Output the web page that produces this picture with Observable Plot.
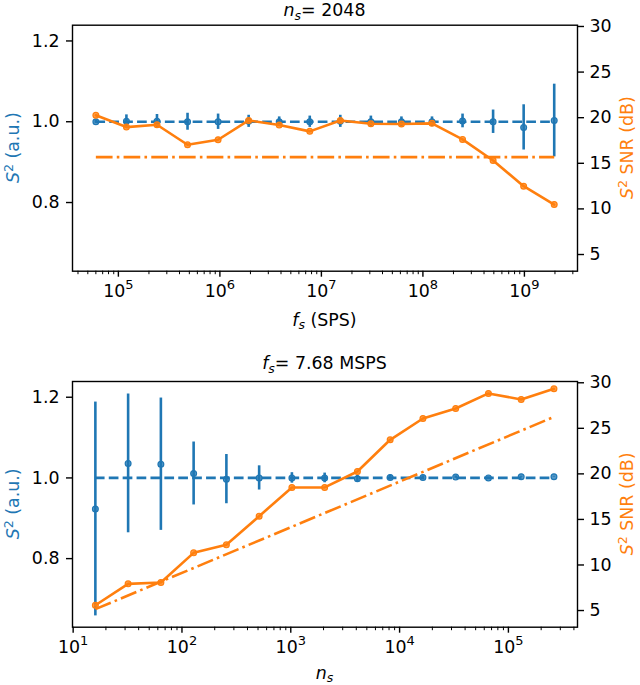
<!DOCTYPE html>
<html>
<head>
<meta charset="utf-8">
<script src="https://cdn.jsdelivr.net/npm/d3@7"></script>
<script src="https://cdn.jsdelivr.net/npm/@observablehq/plot@0.6"></script>
<style>
  body { margin: 0; background: #fff; font-family: "DejaVu Sans"; }
  .panel { position: relative; width: 640px; }
  .panel svg { position: absolute; left: 0; top: 0; overflow: visible; }
</style>
</head>
<body>
<div id="chart"></div>
<script>
// top panel: n_s = 2048, sweep of sampling rate
let fsTop = [6e4, 1.2e5, 2.4e5, 4.8e5, 9.6e5, 1.92e6, 3.84e6, 7.68e6, 1.536e7, 3.072e7, 6.144e7, 1.2288e8, 2.4576e8, 4.9152e8, 9.8304e8, 1.96608e9];
let s2Top = [1.000, 1.001, 1.001, 1.000, 1.000, 1.001, 1.000, 1.000, 1.001, 1.000, 1.000, 1.000, 1.002, 1.000, 0.986, 1.003];
let s2ErrTop = [0.004, 0.016, 0.017, 0.021, 0.019, 0.015, 0.012, 0.014, 0.015, 0.014, 0.012, 0.012, 0.017, 0.029, 0.056, 0.090];
let snrTop = [20.26, 18.97, 19.23, 17.03, 17.58, 19.7, 19.19, 18.5, 19.7, 19.34, 19.3, 19.38, 17.62, 15.31, 12.49, 10.48];
let snrRefTop = [15.68, 15.68];

// bottom panel: f_s = 7.68 MSPS, sweep of number of samples
let nsBottom = [16, 32, 64, 128, 256, 512, 1024, 2048, 4096, 8192, 16384, 32768, 65536, 131072, 262144];
let s2Bottom = [0.923, 1.036, 1.034, 1.011, 0.997, 1.000, 1.000, 1.000, 0.998, 1.001, 1.001, 1.002, 1.000, 1.003, 1.003];
let s2ErrBottom = [0.265, 0.172, 0.164, 0.078, 0.061, 0.030, 0.013, 0.012, 0.008, 0.006, 0.004, 0.003, 0.002, 0.0015, 0.001];
let snrBottom = [5.58, 7.93, 8.07, 11.33, 12.21, 15.36, 18.51, 18.51, 20.26, 23.74, 26.08, 27.18, 28.83, 28.17, 29.34];
let snrRefBottom = [5.15, 26.25];

let s2Ref = 1.0;

// ticks
let decadesTop = [1e5, 1e6, 1e7, 1e8, 1e9];
let decadesBottom = [1e1, 1e2, 1e3, 1e4, 1e5];
let s2Ticks = [0.8, 1.0, 1.2];
let snrTicks = [5, 10, 15, 20, 25, 30];

const blue = "#1f77b4";
const orange = "#ff7f0e";
const fs = 17.4;
const s2Domain = [0.630, 1.239];
const snrDomain = [3.17, 30.14];

// "10^k", turned into a real superscript after rendering
const fmtPow = v => "10^" + Math.round(Math.log10(v));

function minorTicks(domain) {
  return d3.scaleLog().domain(domain).ticks()
    .filter(v => Math.abs(Math.log10(v) - Math.round(Math.log10(v))) > 1e-9);
}

function addText(svg, x, y, html, opts = {}) {
  d3.select(svg).append("text")
    .attr("transform", `translate(${x},${y}) rotate(${opts.rotate || 0})`)
    .attr("text-anchor", "middle")
    .attr("fill", opts.fill || "black")
    .attr("font-family", "DejaVu Sans")
    .attr("font-size", fs)
    .html(html);
}

const it = s => `<tspan font-style="italic">${s}</tspan>`;
const sub = s => `<tspan font-style="italic" font-size="12.5" dy="3.2">${s}</tspan>`;
const sq = `<tspan font-size="12.5" dy="-6">2</tspan><tspan dy="6">`;

function panel({xs, xDomain, decades, s2, s2Err, snr, snrRef, height, marginTop, marginBottom}) {
  let rows = xs.map((x, i) => ({x, s2: s2[i], err: s2Err[i], snr: snr[i]}));
  let refRows = [{x: xs[0], y: snrRef[0]}, {x: xs[xs.length - 1], y: snrRef[1]}];
  let base = {
    width: 640, height, marginTop, marginBottom, marginLeft: 72, marginRight: 63,
    style: {fontFamily: "DejaVu Sans", fontSize: fs + "px", color: "black", background: "none", overflow: "visible"}
  };

  let left = Plot.plot({
    ...base,
    x: {type: "log", domain: xDomain, label: null},
    y: {domain: s2Domain, label: null},
    marks: [
      Plot.ruleY([s2Ref], {x1: xs[0], x2: xs[xs.length - 1], stroke: blue, strokeWidth: 2.6, strokeDasharray: "9.7,4.2"}),
      Plot.ruleX(rows, {x: "x", y1: d => d.s2 - d.err, y2: d => d.s2 + d.err, stroke: blue, strokeWidth: 2.6}),
      Plot.dot(rows, {x: "x", y: "s2", r: 2.9, fill: blue, fillOpacity: 0.75, stroke: blue, strokeWidth: 1.2}),
      Plot.frame({stroke: "black", strokeWidth: 1.4}),
      Plot.axisX(minorTicks(xDomain), {tickSize: 3.5, strokeWidth: 1, tickFormat: () => "", label: null}),
      Plot.axisX(decades, {tickSize: 6, strokeWidth: 1.4, tickPadding: 7, tickFormat: fmtPow, label: null}),
      Plot.axisY(s2Ticks, {tickSize: 6, strokeWidth: 1.4, tickPadding: 7, tickFormat: d3.format(".1f"), label: null})
    ]
  });

  // mathtext-like superscripts on the decade labels
  d3.select(left).selectAll("text").each(function () {
    let t = this.textContent;
    if (t.startsWith("10^")) {
      d3.select(this).html(`10<tspan font-size="13" dy="-8">${t.slice(3)}</tspan>`);
    }
  });

  let right = Plot.plot({
    ...base,
    x: {type: "log", domain: xDomain, axis: null},
    y: {domain: snrDomain, label: null},
    marks: [
      Plot.line(refRows, {x: "x", y: "y", stroke: orange, strokeWidth: 2.6, strokeDasharray: "16.7,4.2,2.6,4.2", strokeLinecap: "butt"}),
      Plot.line(rows, {x: "x", y: "snr", stroke: orange, strokeWidth: 2.6}),
      Plot.dot(rows, {x: "x", y: "snr", r: 2.9, fill: orange, fillOpacity: 0.75, stroke: orange, strokeWidth: 1.2}),
      Plot.axisY(snrTicks, {anchor: "right", tickSize: 6, strokeWidth: 1.4, tickPadding: 6, label: null})
    ]
  });

  let div = d3.select("#chart").append("div").attr("class", "panel").style("height", height + "px");
  div.append(() => left);
  div.append(() => right);

  let cy = marginTop + (height - marginTop - marginBottom) / 2;
  addText(right, 18.8, cy, `${it("S")}${sq} (a.u.)</tspan>`, {rotate: -90, fill: blue});
  addText(right, 633, cy, `${it("S")}${sq} SNR (dB)</tspan>`, {rotate: -90, fill: orange});
  return right;
}

let svgTop = panel({
  xs: fsTop, xDomain: [10 ** 4.548, 10 ** 9.523], decades: decadesTop,
  s2: s2Top, s2Err: s2ErrTop, snr: snrTop, snrRef: snrRefTop,
  height: 340, marginTop: 24.7, marginBottom: 69.3
});
addText(svgTop, 324.5, 16.4, `${it("n")}${sub("s")}<tspan dy="-3.2">= 2048</tspan>`);
addText(svgTop, 324.5, 325.5, `${it("f")}${sub("s")}<tspan dy="-3.2"> (SPS)</tspan>`);

let svgBottom = panel({
  xs: nsBottom, xDomain: [10 ** 0.994, 10 ** 5.635], decades: decadesBottom,
  s2: s2Bottom, s2Err: s2ErrBottom, snr: snrBottom, snrRef: snrRefBottom,
  height: 345, marginTop: 41, marginBottom: 58.3
});
addText(svgBottom, 324.5, 29.3, `${it("f")}${sub("s")}<tspan dy="-3.2">= 7.68 MSPS</tspan>`);
addText(svgBottom, 324.5, 338.5, `${it("n")}${sub("s")}`);
</script>
</body>
</html>
